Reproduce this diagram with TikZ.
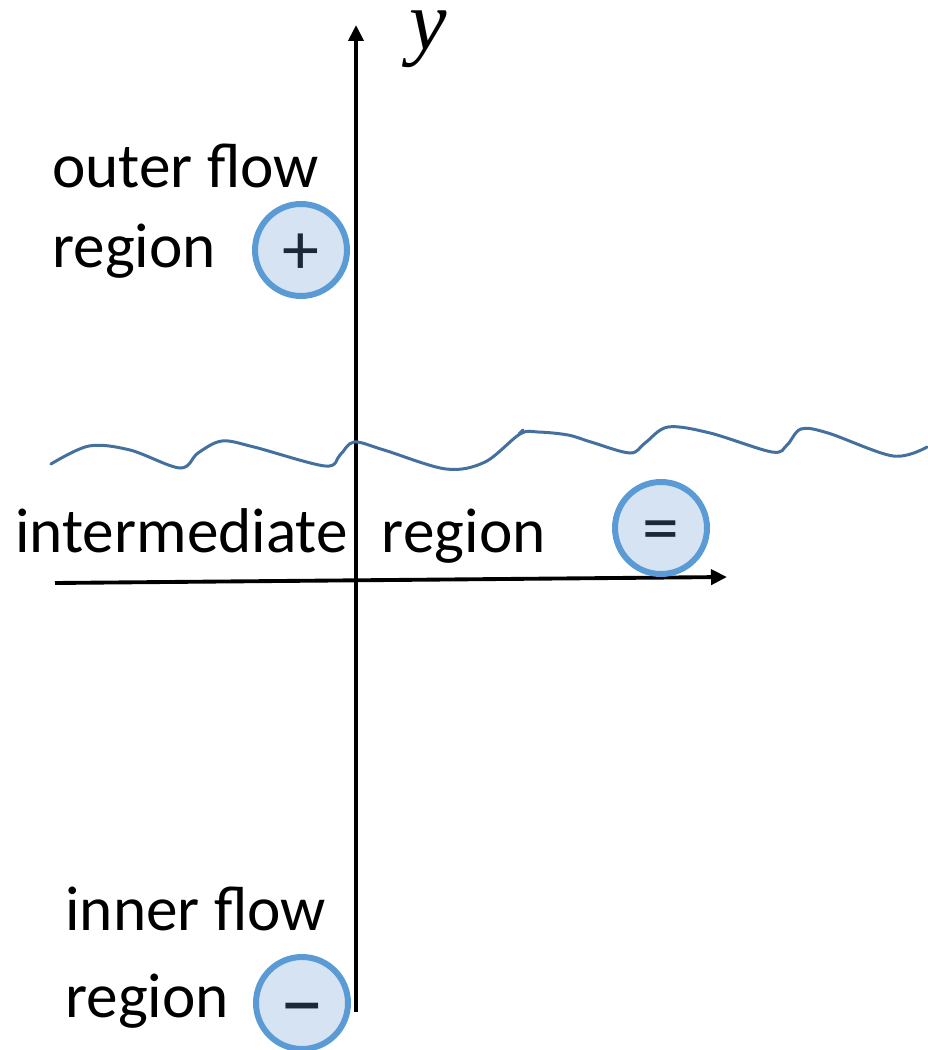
\documentclass[tikz,border=0pt]{standalone}
\usepackage{fontspec}
\usepackage{xcolor}
\usepackage{tikz}
\usetikzlibrary{arrows.meta}
\setmainfont{Carlito}
\newfontfamily\axisfont{Liberation Serif}
\definecolor{ringblue}{HTML}{5B9BD5}
\definecolor{fillblue}{HTML}{D5E3F2}
\definecolor{wavecol}{HTML}{44709F}
\definecolor{signcol}{HTML}{1B2838}

\begin{document}
\begin{tikzpicture}[
    x=0.02cm, y=-0.02cm,
    label/.style={anchor=base west, inner sep=0pt, font=\fontsize{36}{43}\selectfont},
    sign/.style={draw=ringblue, line width=0.12cm, fill=fillblue, circle, minimum size=1.84cm, inner sep=0pt,
        text=signcol, font=\fontsize{42}{50}\selectfont, text height=27.7pt, text depth=0pt},
    axis/.style={-{Triangle[length=0.32cm, width=0.3cm]}, line width=2.2pt},
    wave/.style={wavecol, line width=1.7pt, line cap=round}
]
\useasboundingbox (0,0) rectangle (927,1050);
% axes
\coordinate (ybot) at (356,1012);
\coordinate (ytop) at (356,25);
\coordinate (xleft) at (55,583);
\coordinate (xright) at (727,577);
\draw[axis] (ybot) -- (ytop);
\draw[axis] (xleft) -- (xright);
\node[font=\axisfont\itshape\fontsize{48}{56}\selectfont, inner sep=0pt, anchor=base] (ylab) at (428,50) {y};
% wavy boundary
\draw[wave] plot[smooth, tension=0.55] coordinates {
    (51,464) (89,446) (130,450) (180,468) (198,453) (222,441) (254,447)
    (325,466) (340,455) (354,442) (384,450) (446,469) (485,462) (520,434)
    (538,432) (568,435) (591,442) (630,453) (645,443) (668,427) (710,433)
    (772,452) (787,445) (801,429) (828,433) (893,456) (927,447)};
\draw[wave] (519,434) -- (523,430);
% labels
\node[label] (outer1) at (52,188) {outer flow};
\node[label] (outer2) at (52,268) {region};
\node[label] (mid) at (15,552) {intermediate\hspace{0.68cm}region};
\node[label] (inner1) at (65,930) {inner flow};
\node[label] (inner2) at (65,1017) {region};
% signs
\node[sign] (plus) at (301,250) {+};
\node[sign] (equal) at (661,528) {=};
\node[sign, font=\fontsize{52}{60}\selectfont, text height=32pt] (minus) at (302,1003) {–};
\end{tikzpicture}
\end{document}
